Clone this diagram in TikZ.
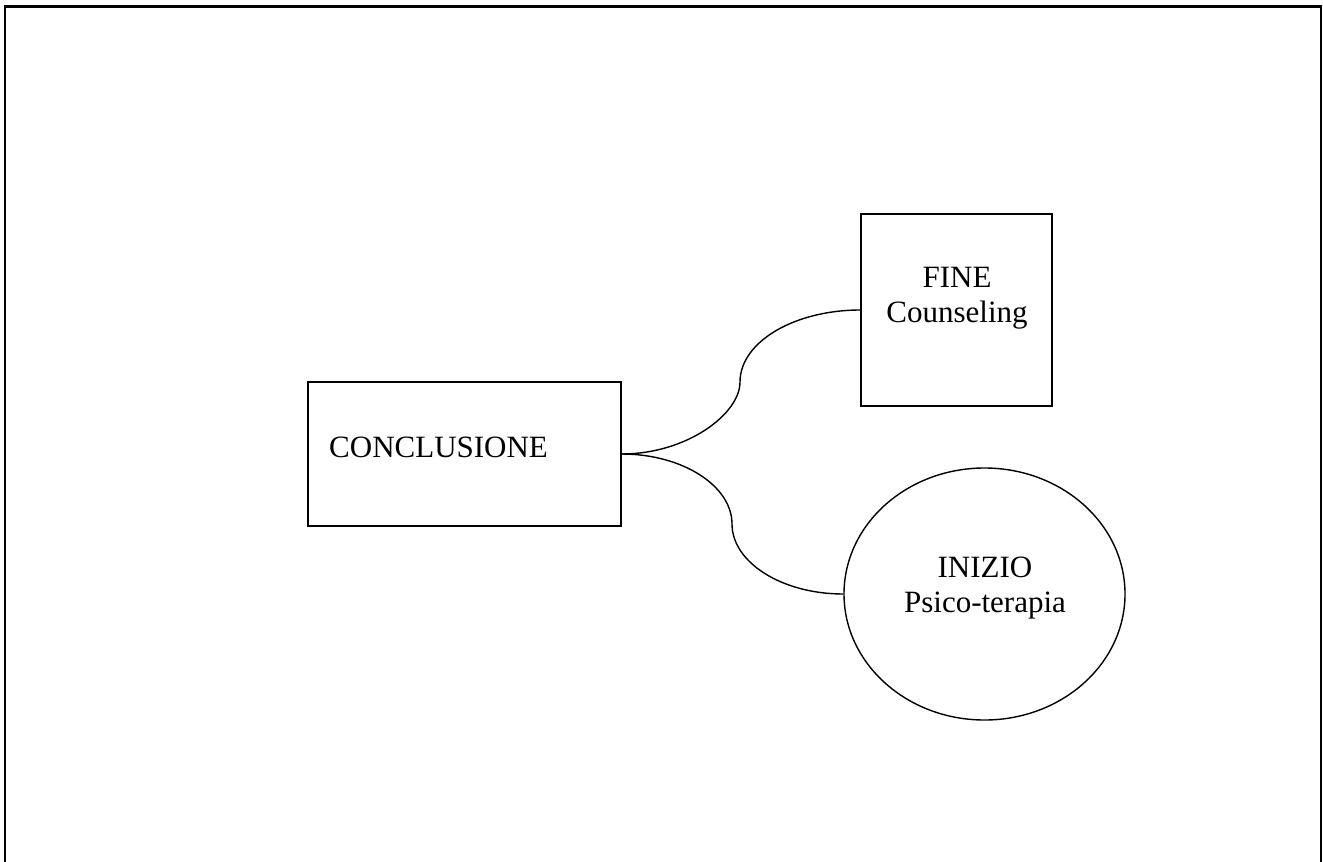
\documentclass[tikz,border=0pt]{standalone}
\usepackage{fontspec}
\setmainfont{Liberation Serif}
\usetikzlibrary{shapes.geometric}
\begin{document}
\begin{tikzpicture}[x=1bp,y=-1bp,
  shapeline/.style={draw=black,line width=1.4bp},
  boxnode/.style={shapeline,rectangle,inner sep=0pt},
  ovalnode/.style={shapeline,ellipse,inner sep=0pt},
  txt/.style={font=\fontsize{31bp}{35bp}\selectfont,align=center,inner sep=0pt},
  link/.style={draw=black,line width=1.4bp}]
\useasboundingbox (0,0) rectangle (1323,861);
% outer frame (bottom edge outside the picture)
\draw[line width=2.2bp] (5,880) -- (5,6.5) -- (1321,6.5) -- (1321,880);
% nodes
\node[boxnode,minimum width=313bp,minimum height=144bp] (conc) at (464.5,454) {};
\node[txt,anchor=base west] (conct) at (329,457) {CONCLUSIONE};
\node[boxnode,minimum width=191bp,minimum height=192bp] (fine) at (956.5,310) {};
\node[txt] (finet) at (957,298) {FINE\\Counseling};
\node[ovalnode,minimum width=281bp,minimum height=252bp] (iniz) at (984.5,594) {};
\node[txt] (inizt) at (985,588) {INIZIO\\Psico-terapia};
% connectors
\coordinate (m1) at (740,382);
\coordinate (m2) at (732,524);
\draw[link] (conc.east) .. controls +(65,0) and +(0,32) .. (m1)
  .. controls +(0,-40) and +(-66,0) .. (fine.west);
\draw[link] (conc.east) .. controls +(61,0) and +(0,-38) .. (m2)
  .. controls +(0,38) and +(-62,0) .. (iniz.west);
\end{tikzpicture}
\end{document}
